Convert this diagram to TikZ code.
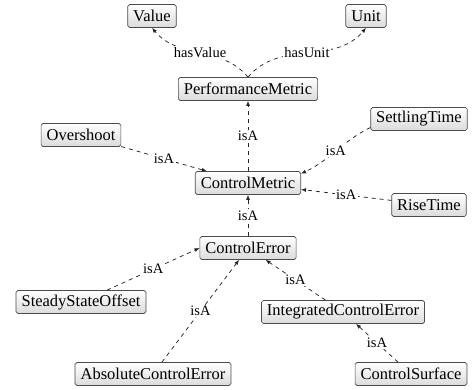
\documentclass[tikz,border=0pt]{standalone}
\usepackage{fontspec}
\setmainfont{Liberation Serif}
\usetikzlibrary{arrows.meta,shadings}
\tikzset{
  cls/.style={draw=gray!60!black, line width=0.7pt, rounded corners=1.8pt,
    top color=white, bottom color=gray!28, minimum height=23pt,
    inner xsep=5.5pt, inner ysep=2pt, font=\fontsize{16.5}{19}\selectfont},
  rel/.style={draw=black!85, line width=0.75pt, dash pattern=on 4pt off 4pt,
    -{Latex[length=5pt,width=4pt]}},
  lbl/.style={fill=white, inner sep=1.5pt, font=\fontsize{14.5}{17}\selectfont}
}
\begin{document}
\begin{tikzpicture}[x=1pt,y=1pt]
\useasboundingbox (0,0) rectangle (473,389);
\node[cls] (value) at (152,373) {Value};
\node[cls] (unit)  at (366,373) {Unit};
\node[cls] (pm)    at (248,300) {PerformanceMetric};
\node[cls] (st)    at (419,270) {SettlingTime};
\node[cls] (ov)    at (81,254)  {Overshoot};
\node[cls] (cm)    at (248,206) {ControlMetric};
\node[cls] (rt)    at (429,184) {RiseTime};
\node[cls] (ce)    at (248,141) {ControlError};
\node[cls] (sso)   at (81,87)   {SteadyStateOffset};
\node[cls] (ice)   at (343,77)  {IntegratedControlError};
\node[cls] (ace)   at (153,15)  {AbsoluteControlError};
\node[cls] (cs)    at (411,15)  {ControlSurface};

\draw[rel] (pm.north) to[out=130,in=-50] node[lbl] {hasValue} (value.south);
\draw[rel] (pm.north) to[out=50,in=-130] node[lbl] {hasUnit} (unit.south);
\draw[rel] (cm) -- node[lbl] {isA} (pm);
\draw[rel] (ov) -- node[lbl] {isA} (cm);
\draw[rel] (st.190) to[out=206,in=25] node[lbl] {isA} (cm.10);
\draw[rel] (rt) -- node[lbl] {isA} (cm);
\draw[rel] (ce) -- node[lbl] {isA} (cm);
\draw[rel] (sso) -- node[lbl] {isA} (ce.west);
\draw[rel] (ace) -- node[lbl] {isA} (ce);
\draw[rel] (ice) -- node[lbl] {isA} (ce);
\draw[rel] (cs) -- node[lbl] {isA} (ice);
\end{tikzpicture}
\end{document}
